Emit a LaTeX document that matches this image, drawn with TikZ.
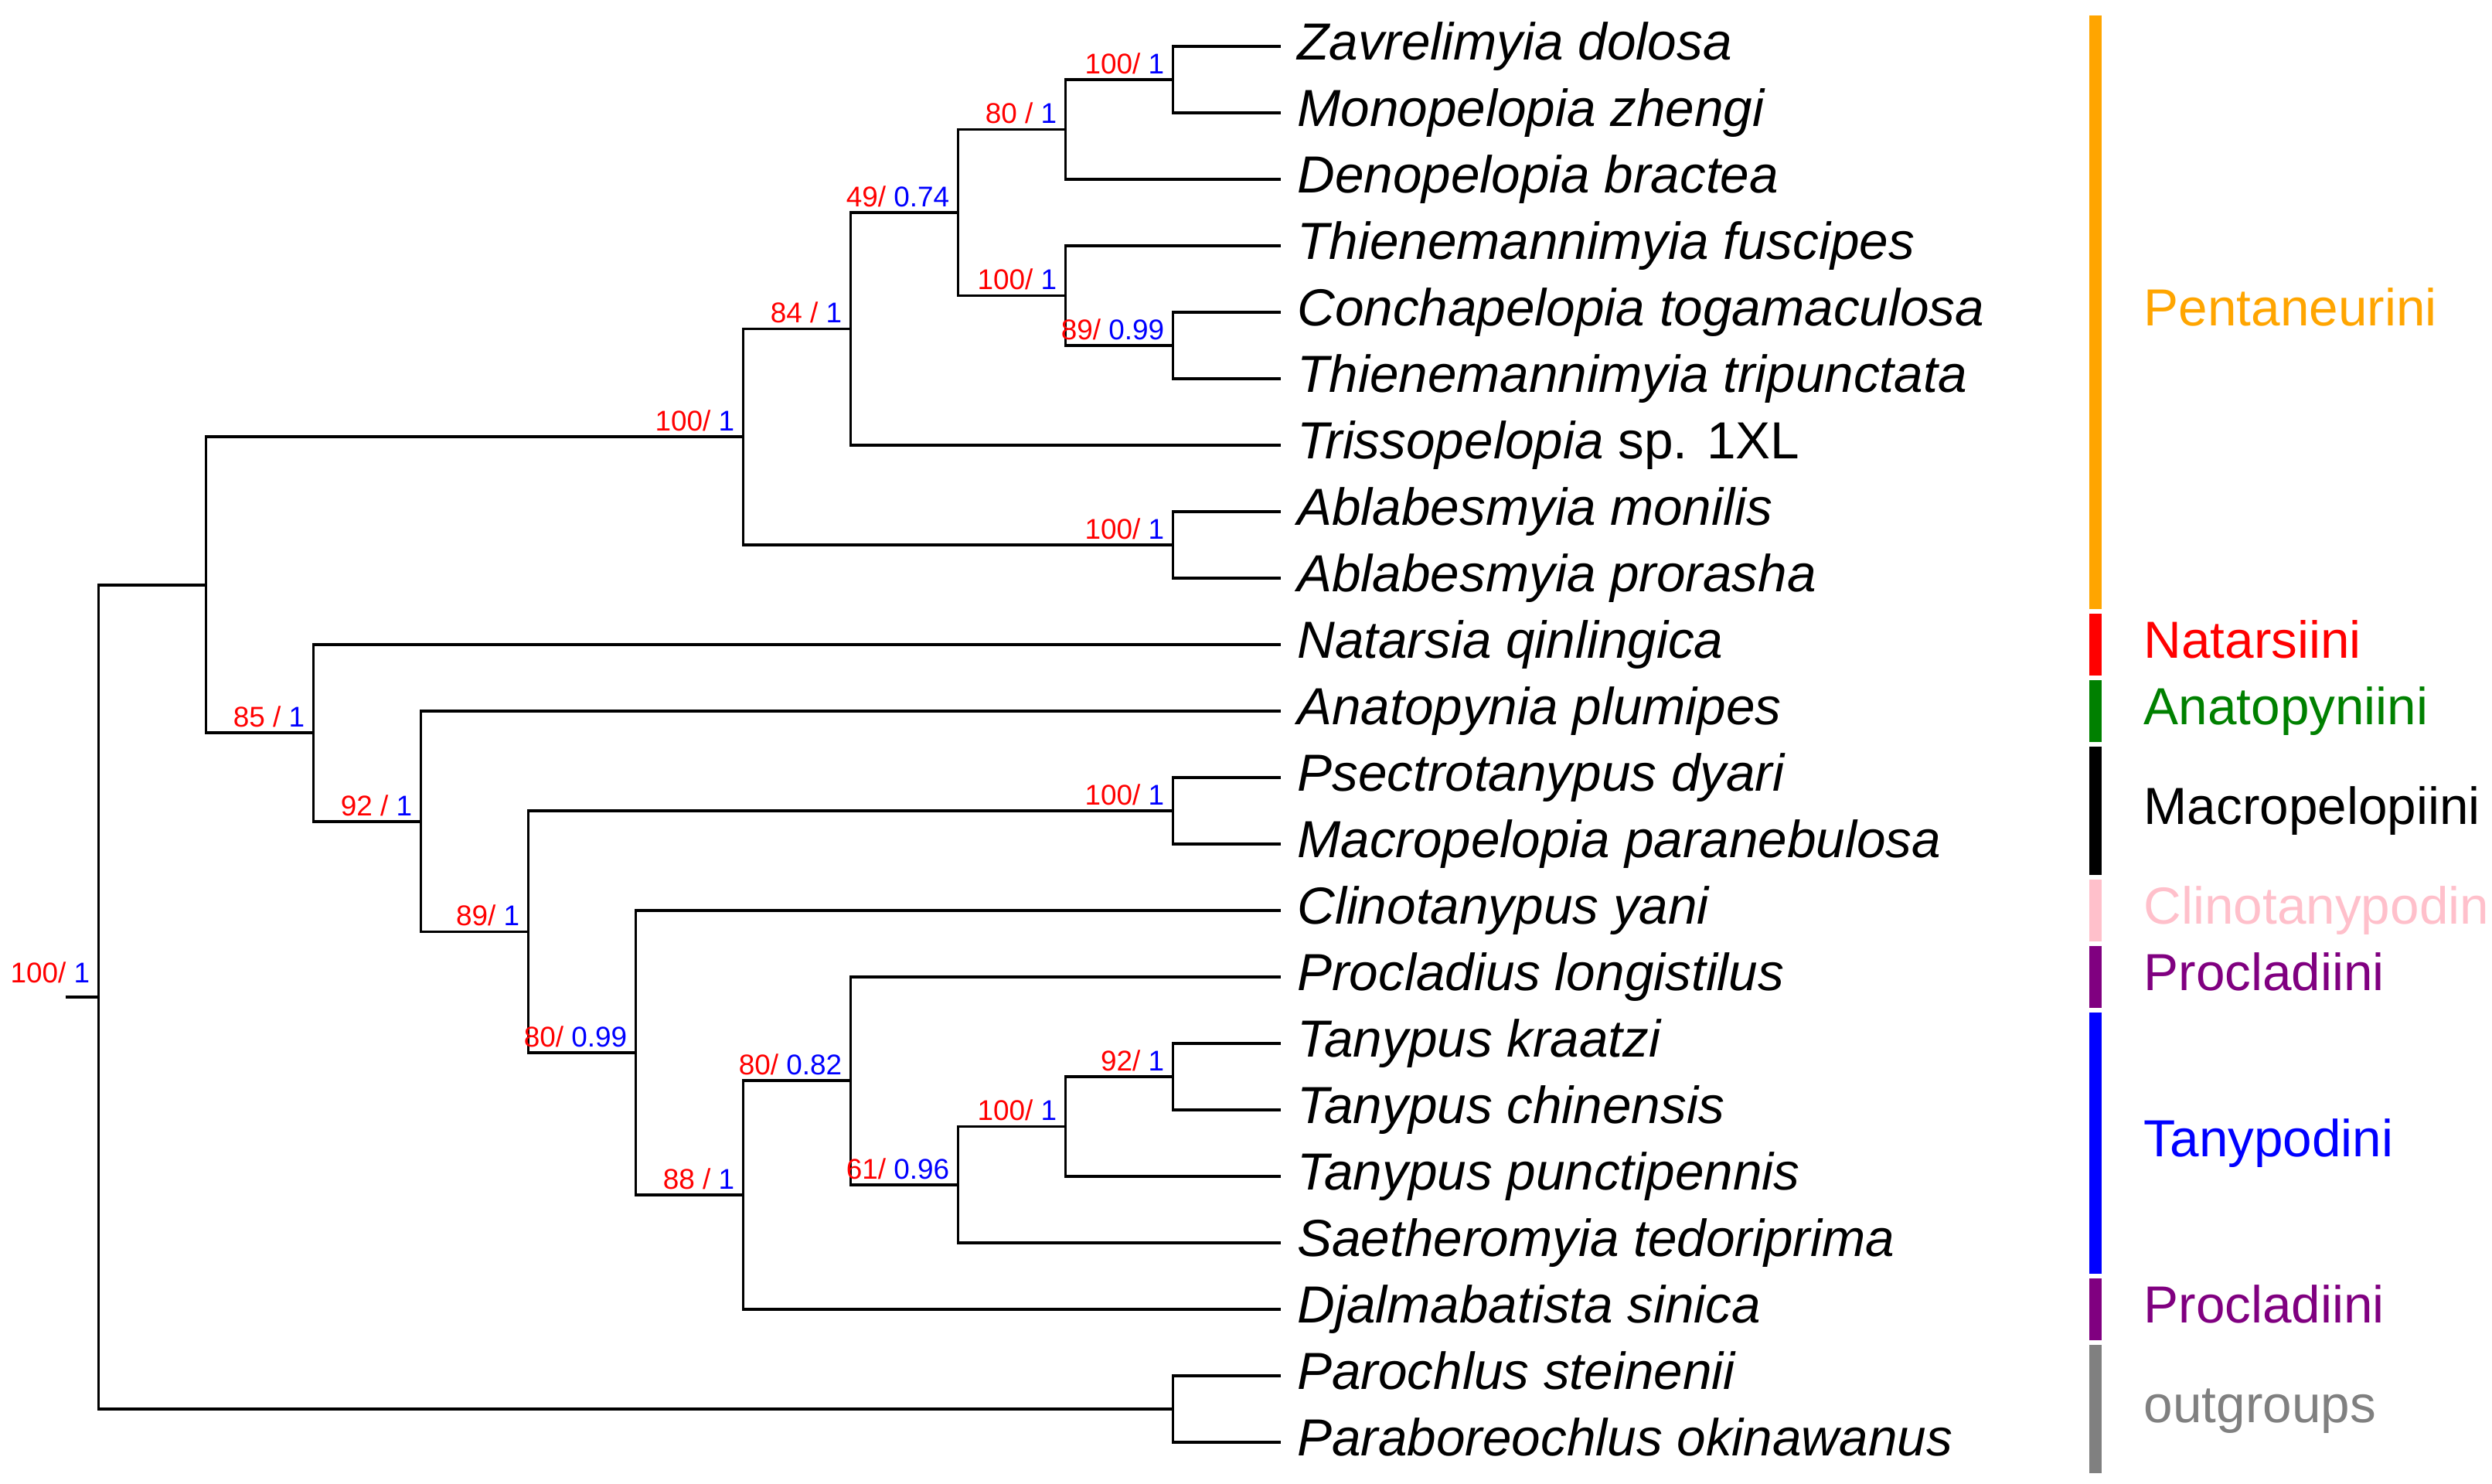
\documentclass[tikz,border=0pt]{standalone}
\usepackage{fontspec}
\setmainfont{Liberation Sans}
\usepackage{xcolor}
\usetikzlibrary{positioning}
\definecolor{pentcol}{RGB}{255,165,0}
\definecolor{natcol}{RGB}{255,0,0}
\definecolor{anacol}{RGB}{0,128,0}
\definecolor{maccol}{RGB}{0,0,0}
\definecolor{clicol}{RGB}{255,192,203}
\definecolor{procol}{RGB}{128,0,128}
\definecolor{tancol}{RGB}{0,0,255}
\definecolor{outcol}{RGB}{128,128,128}
\newcommand{\lx}[1]{1.275+1.39*#1}
\newcommand{\ty}[1]{-0.60-0.86*#1}
\newcommand{\bootpp}[2]{\textcolor{red}{#1/} \textcolor{blue}{#2}}
\tikzset{
    branch/.style={draw=black, line width=1.1pt},
    taxon/.style={anchor=west, inner xsep=6pt, inner ysep=0pt, text height=14pt, text depth=4pt, font=\fontsize{19.2}{22}\selectfont\itshape},
    support/.style={anchor=south east, inner xsep=3pt, inner ysep=2pt, text depth=0pt, font=\fontsize{10.5}{12}\selectfont},
    clade/.style={anchor=west, inner sep=0pt, text height=14pt, text depth=4pt, font=\fontsize{19.2}{22}\selectfont}
}
\begin{document}
\begin{tikzpicture}[x=1cm, y=1cm]
    \useasboundingbox (0,0) rectangle (32.24,-19.20);
    \clip (0,0) rectangle (32.24,-19.20);

    % taxa
    \foreach \i/\name in {0/Zavrelimyia dolosa, 1/Monopelopia zhengi, 2/Denopelopia bractea,
        3/Thienemannimyia fuscipes, 4/Conchapelopia togamaculosa, 5/Thienemannimyia tripunctata,
        6/{Trissopelopia \upshape sp. 1XL}, 7/Ablabesmyia monilis, 8/Ablabesmyia prorasha,
        9/Natarsia qinlingica, 10/Anatopynia plumipes, 11/Psectrotanypus dyari,
        12/Macropelopia paranebulosa, 13/Clinotanypus yani, 14/Procladius longistilus,
        15/Tanypus kraatzi, 16/Tanypus chinensis, 17/Tanypus punctipennis,
        18/Saetheromyia tedoriprima, 19/Djalmabatista sinica, 20/Parochlus steinenii,
        21/Paraboreochlus okinawanus}
        \node [taxon] (t\i) at ({\lx{11}},{\ty{\i}}) {\name};

    % internal nodes
    \coordinate (nZM) at ({\lx{10}},{\ty{0.5}});
    \coordinate (nZMD) at ({\lx{9}},{\ty{1.25}});
    \coordinate (nCT) at ({\lx{10}},{\ty{4.5}});
    \coordinate (nTCT) at ({\lx{9}},{\ty{3.75}});
    \coordinate (nA) at ({\lx{8}},{\ty{2.5}});
    \coordinate (nB) at ({\lx{7}},{\ty{4.25}});
    \coordinate (nAbl) at ({\lx{10}},{\ty{7.5}});
    \coordinate (nPent) at ({\lx{6}},{\ty{5.875}});
    \coordinate (nMac) at ({\lx{10}},{\ty{11.5}});
    \coordinate (nTkc) at ({\lx{10}},{\ty{15.5}});
    \coordinate (nTan) at ({\lx{9}},{\ty{16.25}});
    \coordinate (nSae) at ({\lx{8}},{\ty{17.125}});
    \coordinate (nProc) at ({\lx{7}},{\ty{15.5625}});
    \coordinate (nDj) at ({\lx{6}},{\ty{17.28125}});
    \coordinate (nClino) at ({\lx{5}},{\ty{15.140625}});
    \coordinate (nMacr) at ({\lx{4}},{\ty{13.3203}});
    \coordinate (nAnat) at ({\lx{3}},{\ty{11.6602}});
    \coordinate (nNat) at ({\lx{2}},{\ty{10.3301}});
    \coordinate (nIn) at ({\lx{1}},{\ty{8.1025}});
    \coordinate (nOut) at ({\lx{10}},{\ty{20.5}});
    \coordinate (nRoot) at ({\lx{0}},{\ty{14.3013}});
    \coordinate (stub) at ([xshift=-0.43cm]nRoot);

    % branches
    \foreach \p/\c in {nZM/t0.west, nZM/t1.west, nZMD/nZM, nZMD/t2.west,
        nCT/t4.west, nCT/t5.west, nTCT/t3.west, nTCT/nCT, nA/nZMD, nA/nTCT,
        nB/nA, nB/t6.west, nAbl/t7.west, nAbl/t8.west, nPent/nB, nPent/nAbl,
        nMac/t11.west, nMac/t12.west, nTkc/t15.west, nTkc/t16.west,
        nTan/nTkc, nTan/t17.west, nSae/nTan, nSae/t18.west, nProc/t14.west, nProc/nSae,
        nDj/nProc, nDj/t19.west, nClino/t13.west, nClino/nDj, nMacr/nMac, nMacr/nClino,
        nAnat/t10.west, nAnat/nMacr, nNat/t9.west, nNat/nAnat, nIn/nPent, nIn/nNat,
        nOut/t20.west, nOut/t21.west, nRoot/nIn, nRoot/nOut}
        \draw [branch] (\p) |- (\c);
    \draw [branch] (stub) -- (nRoot);

    % support values
    \node [support] (sZM) at (nZM) {\bootpp{100}{1}};
    \node [support] (sZMD) at (nZMD) {\bootpp{80 }{1}};
    \node [support] (sA) at (nA) {\bootpp{49}{0.74}};
    \node [support] (sTCT) at (nTCT) {\bootpp{100}{1}};
    \node [support] (sCT) at (nCT) {\bootpp{89}{0.99}};
    \node [support] (sB) at (nB) {\bootpp{84 }{1}};
    \node [support] (sPent) at (nPent) {\bootpp{100}{1}};
    \node [support] (sAbl) at (nAbl) {\bootpp{100}{1}};
    \node [support] (sNat) at (nNat) {\bootpp{85 }{1}};
    \node [support] (sAnat) at (nAnat) {\bootpp{92 }{1}};
    \node [support] (sMacr) at (nMacr) {\bootpp{89}{1}};
    \node [support] (sMac) at (nMac) {\bootpp{100}{1}};
    \node [support] (sClino) at (nClino) {\bootpp{80}{0.99}};
    \node [support] (sDj) at (nDj) {\bootpp{88 }{1}};
    \node [support] (sProc) at (nProc) {\bootpp{80}{0.82}};
    \node [support] (sSae) at (nSae) {\bootpp{61}{0.96}};
    \node [support] (sTan) at (nTan) {\bootpp{100}{1}};
    \node [support] (sTkc) at (nTkc) {\bootpp{92}{1}};
    \node [support, inner ysep=5pt] (sRoot) at (nRoot) {\bootpp{100}{1}};

    % tribe bars and names
    \foreach \c/\a/\b in {pentcol/0/8, natcol/9/9, anacol/10/10, maccol/11/12, clicol/13/13,
        procol/14/14, tancol/15/18, procol/19/19, outcol/20/21}
        \fill [fill=\c] (27.03,{\ty{\a}+0.40}) rectangle (27.19,{\ty{\b}-0.40});
    \foreach \nm/\c/\y/\txt in {Pent/pentcol/4/Pentaneurini, Nat/natcol/9/Natarsiini,
        Ana/anacol/10/Anatopyniini, Mac/maccol/11.5/Macropelopiini, Cli/clicol/13/Clinotanypodini,
        ProA/procol/14/Procladiini, Tan/tancol/16.5/Tanypodini, ProB/procol/19/Procladiini,
        Out/outcol/20.5/outgroups}
        \node [clade, text=\c] (g\nm) at (27.73,{\ty{\y}}) {\txt};
\end{tikzpicture}
\end{document}
